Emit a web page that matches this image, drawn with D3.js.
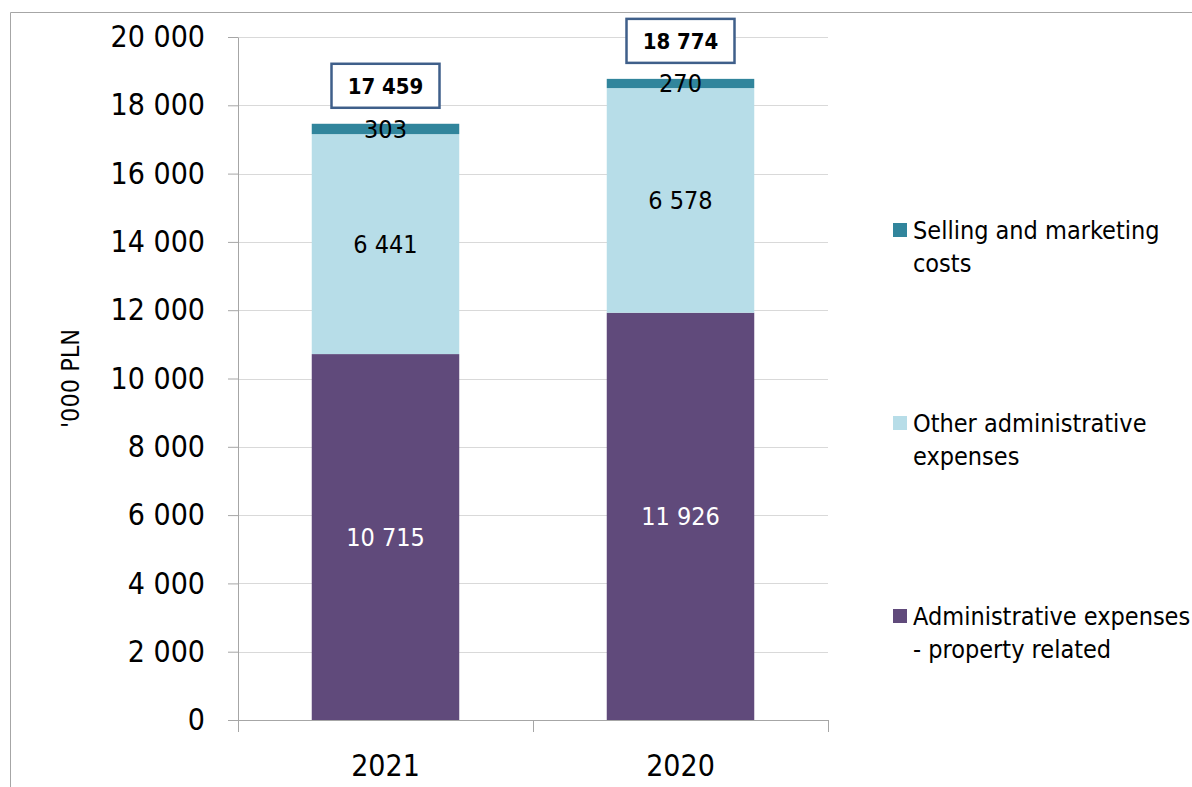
<!DOCTYPE html>
<html>
<head>
<meta charset="utf-8">
<script src="https://cdn.jsdelivr.net/npm/d3@7"></script>
<style>
  body { margin: 0; background: #fff; }
  text { font-family: "DejaVu Sans Condensed", "DejaVu Sans", sans-serif; font-stretch: condensed; }
</style>
</head>
<body>
<div id="chart"></div>
<script>
var years = ["2021", "2020"],
    seriesNames = ["Administrative expenses - property related", "Other administrative expenses", "Selling and marketing costs"],
    propertyRelated = [10715, 11926],
    otherAdmin = [6441, 6578],
    selling = [303, 270],
    totals = [17459, 18774],
    yTicks = [0, 2000, 4000, 6000, 8000, 10000, 12000, 14000, 16000, 18000, 20000];

var colors = ["#604a7b", "#b7dde8", "#31859c"],
    labelColors = ["#ffffff", "#000000", "#000000"],
    legendLines = [["Administrative expenses", "- property related"], ["Other administrative", "expenses"], ["Selling and marketing", "costs"]];

var W = 1192, H = 787,
    margin = { top: 37, right: 364, bottom: 67, left: 238 },
    width = W - margin.left - margin.right,
    height = H - margin.top - margin.bottom;

var fmt = function (v) { return d3.format(",")(v).replace(/,/g, " "); };

var svg = d3.select("#chart").append("svg")
    .attr("width", W)
    .attr("height", H);

// outer frame (top and left edges visible)
svg.append("path")
    .attr("d", "M10.5," + H + "V12.5H" + W)
    .attr("fill", "none")
    .attr("stroke", "#a6a6a6");

var g = svg.append("g")
    .attr("transform", "translate(" + margin.left + "," + margin.top + ")");

var x = d3.scaleBand().domain(years).range([0, width]).paddingInner(0.5).paddingOuter(0.25);
var y = d3.scaleLinear().domain([0, 20000]).range([height, 0]);

// gridlines
g.selectAll(".grid")
    .data(yTicks.slice(1))
    .enter().append("line")
    .attr("x1", 0).attr("x2", width)
    .attr("y1", function (d) { return Math.round(y(d)) + 0.5; })
    .attr("y2", function (d) { return Math.round(y(d)) + 0.5; })
    .attr("stroke", "#d9d9d9");

var stackData = years.map(function (yr, i) {
    return { year: yr, vals: [propertyRelated[i], otherAdmin[i], selling[i]] };
});

var segs = [];
stackData.forEach(function (d) {
    var base = 0;
    d.vals.forEach(function (v, k) {
        segs.push({ year: d.year, k: k, y0: base, y1: base + v, v: v });
        base += v;
    });
});

g.selectAll(".seg")
    .data(segs)
    .enter().append("rect")
    .attr("x", function (d) { return x(d.year); })
    .attr("width", x.bandwidth())
    .attr("y", function (d) { return y(d.y1); })
    .attr("height", function (d) { return y(d.y0) - y(d.y1); })
    .attr("fill", function (d) { return colors[d.k]; });

g.selectAll(".segLabel")
    .data(segs)
    .enter().append("text")
    .attr("x", function (d) { return x(d.year) + x.bandwidth() / 2; })
    .attr("y", function (d) { return y((d.y0 + d.y1) / 2); })
    .attr("dy", "0.36em")
    .attr("text-anchor", "middle")
    .attr("font-size", 25)
    .attr("fill", function (d) { return labelColors[d.k]; })
    .text(function (d) { return fmt(d.v); });

// y axis
var yAxis = g.append("g")
    .call(d3.axisLeft(y).tickValues(yTicks).tickSize(10).tickPadding(23).tickFormat(fmt));
yAxis.select(".domain").attr("stroke", "#a6a6a6").attr("d", "M0.5," + (height + 12) + "V0.5");
yAxis.selectAll(".tick line").attr("stroke", "#a6a6a6");
yAxis.selectAll(".tick text").attr("font-size", 30).attr("fill", "#000")
    .style("font-family", "'DejaVu Sans Condensed', 'DejaVu Sans', sans-serif");

// x axis
var xAxis = g.append("g")
    .attr("transform", "translate(0," + height + ")")
    .call(d3.axisBottom(x).tickSize(0).tickPadding(35));
xAxis.select(".domain").attr("stroke", "#a6a6a6").attr("d", "M-10,0.5H" + width);
xAxis.selectAll(".tick text").attr("font-size", 30).attr("fill", "#000")
    .style("font-family", "'DejaVu Sans Condensed', 'DejaVu Sans', sans-serif");
xAxis.selectAll(".sep")
    .data([0, width / 2, width])
    .enter().append("line")
    .attr("x1", function (d) { return Math.round(d) + 0.5; })
    .attr("x2", function (d) { return Math.round(d) + 0.5; })
    .attr("y1", 0).attr("y2", 12)
    .attr("stroke", "#a6a6a6");

// total boxes
var tot = g.selectAll(".total")
    .data(years.map(function (yr, i) { return { year: yr, v: totals[i] }; }))
    .enter().append("g")
    .attr("transform", function (d) {
        return "translate(" + (x(d.year) + x.bandwidth() / 2) + "," + (y(d.v) - 38) + ")";
    });
tot.append("rect")
    .attr("x", -54).attr("y", -22)
    .attr("width", 108).attr("height", 44)
    .attr("fill", "#fff")
    .attr("stroke", "#3f5f8a")
    .attr("stroke-width", 2.5);
tot.append("text")
    .attr("text-anchor", "middle")
    .attr("dy", "0.36em")
    .attr("font-size", 22)
    .attr("font-weight", "bold")
    .text(function (d) { return fmt(d.v); });

// y title
svg.append("text")
    .attr("transform", "translate(70," + (margin.top + height / 2) + ") rotate(-90)")
    .attr("text-anchor", "middle")
    .attr("dy", "0.36em")
    .attr("font-size", 25)
    .text("'000 PLN");

// legend (top to bottom: selling, other, property)
var legendY = [230, 423, 616];
var legend = svg.selectAll(".legend")
    .data([2, 1, 0])
    .enter().append("g")
    .attr("transform", function (d, i) { return "translate(893," + legendY[i] + ")"; });
legend.append("rect")
    .attr("x", 0).attr("y", -7)
    .attr("width", 14).attr("height", 14)
    .attr("fill", function (d) { return colors[d]; });
legend.append("text")
    .attr("x", 20)
    .attr("font-size", 25)
    .attr("fill", "#000")
    .selectAll("tspan")
    .data(function (d) { return legendLines[d]; })
    .enter().append("tspan")
    .attr("x", 20)
    .attr("y", function (d, i) { return i * 33; })
    .attr("dy", "0.36em")
    .text(function (d) { return d; });
</script>
</body>
</html>
